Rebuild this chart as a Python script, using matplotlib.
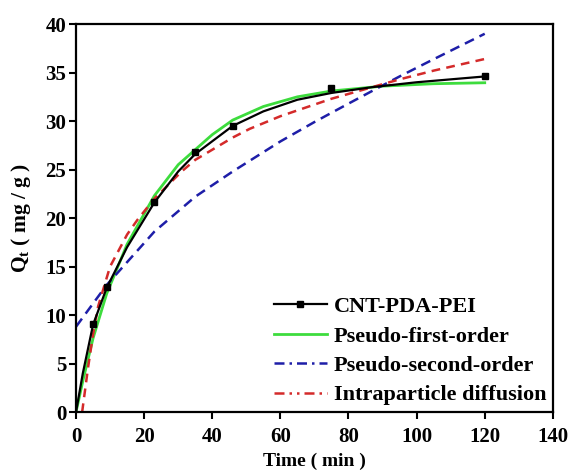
"""Adsorption kinetics of CNT-PDA-PEI with the three fitted models."""
import matplotlib
matplotlib.use("Agg")
from matplotlib import pyplot as plt
from matplotlib.lines import Line2D

# experimental points
t_exp = [5, 9, 23, 35, 46, 75, 120]
q_exp = [9.1, 12.9, 21.7, 26.8, 29.5, 33.4, 34.6]

# black guide line through the data
t_line = [0, 2, 5, 9, 15, 23, 30, 35, 46, 55, 65, 75, 87, 100, 120]
q_line = [0, 4.0, 9.0, 12.8, 17.0, 21.6, 24.8, 26.6, 29.5, 31.0, 32.2, 32.9, 33.5, 34.0, 34.6]

# model curves
t_pfo = [0, 2, 5, 9, 15, 23, 30, 40, 46, 55, 65, 75, 90, 105, 120]
q_pfo = [0, 3.2, 7.6, 12.2, 17.3, 22.3, 25.5, 28.6, 30.1, 31.5, 32.5, 33.1, 33.6, 33.85, 33.95]

t_pso = [0, 9, 23, 35, 46, 60, 70, 80, 88, 95, 104, 120]
q_pso = [8.8, 13.1, 18.6, 22.2, 24.8, 27.9, 29.9, 31.8, 33.3, 34.6, 36.2, 39.0]

t_ipd = [1.8, 3.5, 5, 6.5, 10, 15, 18, 23, 31, 35, 46, 51, 60, 75, 89, 95, 105, 120]
q_ipd = [0, 4.5, 8.0, 10.9, 15.0, 18.3, 19.8, 22.0, 24.8, 26.0, 28.3, 29.2, 30.5, 32.3, 33.7, 34.3, 35.2, 36.4]

labels = ["CNT-PDA-PEI", "Pseudo-first-order", "Pseudo-second-order", "Intraparticle diffusion"]
xticks = [0, 20, 40, 60, 80, 100, 120, 140]
yticks = [0, 5, 10, 15, 20, 25, 30, 35, 40]

GREEN = "#3ddc3d"
BLUE = "#1e1ea8"
RED = "#d42a2a"

plt.rcParams["font.family"] = ["Liberation Serif", "DejaVu Serif"]
plt.rcParams["font.weight"] = "bold"
plt.rcParams["mathtext.fontset"] = "custom"
plt.rcParams["mathtext.rm"] = "Liberation Serif:bold"
plt.rcParams["mathtext.default"] = "rm"


def main():
    fig = plt.figure(figsize=(5.69, 4.72), dpi=100)
    ax = fig.add_axes([0.1336, 0.127, 0.838, 0.822])

    ax.plot(t_pfo, q_pfo, color=GREEN, lw=2.0)
    ax.plot(t_pso, q_pso, color=BLUE, lw=1.8, dashes=(4, 2.5))
    ax.plot(t_ipd, q_ipd, color=RED, lw=1.8, dashes=(3.5, 2.5))
    ax.plot(t_line, q_line, color="black", lw=1.6)
    ax.plot(t_exp, q_exp, ls="none", marker="s", ms=4.5, color="black")

    ax.set_xlim(0, 140)
    ax.set_ylim(0, 40)
    ax.set_xticks(xticks)
    ax.set_yticks(yticks)
    ax.tick_params(direction="out", length=5, width=1.5, labelsize=15)
    ax.tick_params(axis="x", pad=6)
    ax.tick_params(axis="y", pad=2)
    for s in ax.spines.values():
        s.set_linewidth(1.6)

    ax.set_xlabel("Time ( min )", fontsize=14, fontweight="bold", labelpad=4)
    ax.set_ylabel("Q$_t$ ( mg / g )", fontsize=15.5, fontweight="bold", labelpad=9)

    handles = [
        Line2D([], [], color="black", lw=1.6, marker="s", ms=4.5),
        Line2D([], [], color=GREEN, lw=2.0),
        Line2D([], [], color=BLUE, lw=1.8, dashes=(4, 2, 1, 2)),
        Line2D([], [], color=RED, lw=1.8, dashes=(4, 2, 1, 2, 1, 2)),
    ]
    ax.legend(handles, labels, loc="lower right", frameon=False, fontsize=16,
              handlelength=2.4, handletextpad=0.3, labelspacing=0.4,
              borderaxespad=0.1, borderpad=0.2)

    fig.savefig("out.png", dpi=100)
    plt.close(fig)


if __name__ == "__main__":
    main()
